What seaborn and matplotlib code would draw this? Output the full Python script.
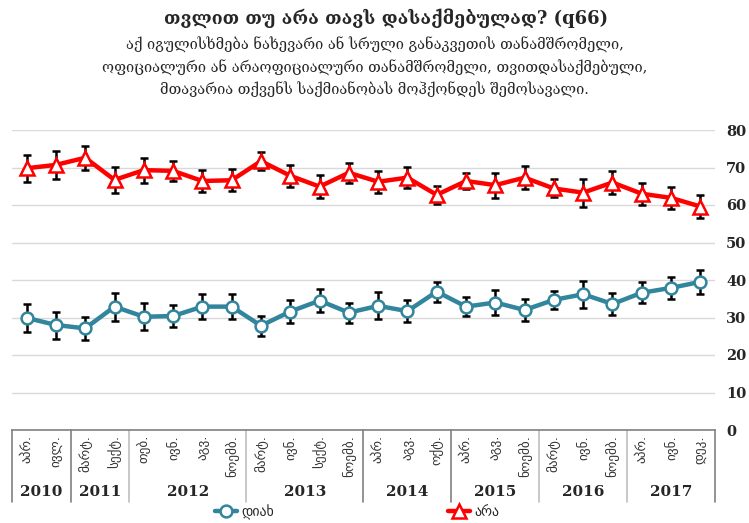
import numpy as np
import pandas as pd
import matplotlib
matplotlib.use("Agg")
import matplotlib.pyplot as plt
import matplotlib.transforms as mtransforms
import seaborn as sns

# Dados do gráfico
months = ["აპრ.", "ივლ.", "მარტ.", "სექტ.", "თებ.", "ივნ.", "აგვ.", "ნოემბ.",
          "მარტ.", "ივნ.", "სექტ.", "ნოემბ.", "აპრ.", "აგვ.", "ოქტ.",
          "აპრ.", "აგვ.", "ნოემბ.", "მარტ.", "ივნ.", "ნოემბ.", "აპრ.", "ივნ.", "დეკ."]
years = ["2010", "2011", "2012", "2013", "2014", "2015", "2016", "2017"]
year_sizes = [2, 2, 4, 4, 3, 3, 3, 3]

ara = [69.8, 70.7, 72.6, 66.7, 69.3, 69.1, 66.4, 66.6, 71.7, 67.8, 64.9, 68.6,
       66.2, 67.3, 62.7, 66.4, 65.3, 67.3, 64.4, 63.3, 66.0, 63.0, 61.9, 59.6]
ara_err = [3.6, 3.7, 3.2, 3.5, 3.3, 2.7, 3.0, 2.9, 2.4, 2.9, 3.1, 2.6,
           2.9, 2.8, 2.5, 2.2, 3.3, 3.0, 2.4, 3.7, 3.0, 2.9, 2.9, 3.0]
diakh = [29.9, 28.0, 27.1, 32.9, 30.2, 30.4, 32.9, 32.9, 27.8, 31.6, 34.5, 31.3,
         33.1, 31.7, 36.9, 32.9, 34.0, 32.0, 34.7, 36.2, 33.6, 36.6, 37.9, 39.5]
diakh_err = [3.7, 3.6, 3.1, 3.7, 3.6, 2.9, 3.3, 3.3, 2.6, 3.1, 3.1, 2.7,
             3.6, 2.9, 2.7, 2.6, 3.4, 3.0, 2.5, 3.6, 3.0, 2.8, 2.9, 3.1]

title = "თვლით თუ არა თავს დასაქმებულად? (q66)"
subtitle = ["აქ იგულისხმება ნახევარი ან სრული განაკვეთის თანამშრომელი,",
            "ოფიციალური ან არაოფიციალური თანამშრომელი, თვითდასაქმებული,",
            "მთავარია თქვენს საქმიანობას მოჰქონდეს შემოსავალი."]

TEAL = "#31859C"
RED = "#FF0000"

sns.set_style("white")
plt.rcParams['font.family'] = ['DejaVu Sans']
serif = ['DejaVu Serif', 'DejaVu Sans']

df = pd.DataFrame({"x": np.arange(len(months)), "დიახ": diakh, "არა": ara})

fig = plt.figure(figsize=(7.49, 5.23), dpi=100)
ax = fig.add_axes([12 / 749, 93 / 523, 703 / 749, 300 / 523])

# Linhas principais
sns.lineplot(data=df, x="x", y="დიახ", ax=ax, color=TEAL, lw=3.2, marker="o",
             markersize=8.5, markerfacecolor="white", markeredgecolor=TEAL,
             markeredgewidth=1.8, label="დიახ", zorder=3)
sns.lineplot(data=df, x="x", y="არა", ax=ax, color=RED, lw=3.2, marker="^",
             markersize=9.5, markerfacecolor="white", markeredgecolor=RED,
             markeredgewidth=1.8, label="არა", zorder=3)

# Barras de erro
ax.errorbar(df["x"], diakh, yerr=diakh_err, fmt="none", ecolor="black",
            elinewidth=1.8, capsize=3, capthick=1.8, zorder=2)
ax.errorbar(df["x"], ara, yerr=ara_err, fmt="none", ecolor="black",
            elinewidth=1.8, capsize=3, capthick=1.8, zorder=2)

ax.set_xlim(-0.5, len(months) - 0.5)
ax.set_ylim(0, 80)
ax.set_yticks(range(0, 81, 10))
ax.yaxis.tick_right()
ax.tick_params(axis="y", length=0, pad=8)
for lab in ax.get_yticklabels():
    lab.set_fontfamily(serif)
    lab.set_fontweight("bold")
    lab.set_fontsize(10.5)
ax.set_xticks([])
ax.set_xlabel("")
ax.set_ylabel("")
for y in range(10, 81, 10):
    ax.axhline(y, color="#D9D9D9", lw=1, zorder=0)
for s in ["top", "right", "left"]:
    ax.spines[s].set_visible(False)
ax.spines["bottom"].set_color("#808080")
ax.spines["bottom"].set_linewidth(1.2)

# Tabela de categorias abaixo do eixo
trans = mtransforms.blended_transform_factory(ax.transData, ax.transAxes)
px = 1 / 300
for i, m in enumerate(months):
    ax.text(i, -5 * px, m, transform=trans, rotation=90, ha="center", va="top",
            fontsize=9.5, color="#333333")
start = 0
bounds = [-0.5]
for yr, n in zip(years, year_sizes):
    center = start + (n - 1) / 2
    ax.text(center, -62 * px, yr, transform=trans, ha="center", va="center",
            fontsize=11, fontweight="bold", family=serif)
    start += n
    bounds.append(start - 0.5)
for b in bounds:
    c = "#808080" if b in (-0.5, 1.5, 11.5, 14.5, 23.5) else "#BFBFBF"
    ax.plot([b, b], [0, -72 * px], transform=trans, color=c, lw=1.2,
            clip_on=False)

# Legenda
ax.get_legend().remove()
handles, labels = ax.get_legend_handles_labels()
fig.legend(handles[:2], labels[:2], loc="center", bbox_to_anchor=(357 / 749, 1 - 512 / 523),
           ncol=2, frameon=False, fontsize=10, handlelength=1.6, handletextpad=0.3,
           columnspacing=12.5)

# Títulos
fig.text(0.515, 1 - 18 / 523, title, ha="center", va="center", fontsize=13,
         fontweight="bold", family=serif)
for k, line in enumerate(subtitle):
    fig.text(0.5, 1 - (45 + 22.5 * k) / 523, line, ha="center", va="center",
             fontsize=10.5, family=serif)

fig.savefig("out.png", dpi=100)
